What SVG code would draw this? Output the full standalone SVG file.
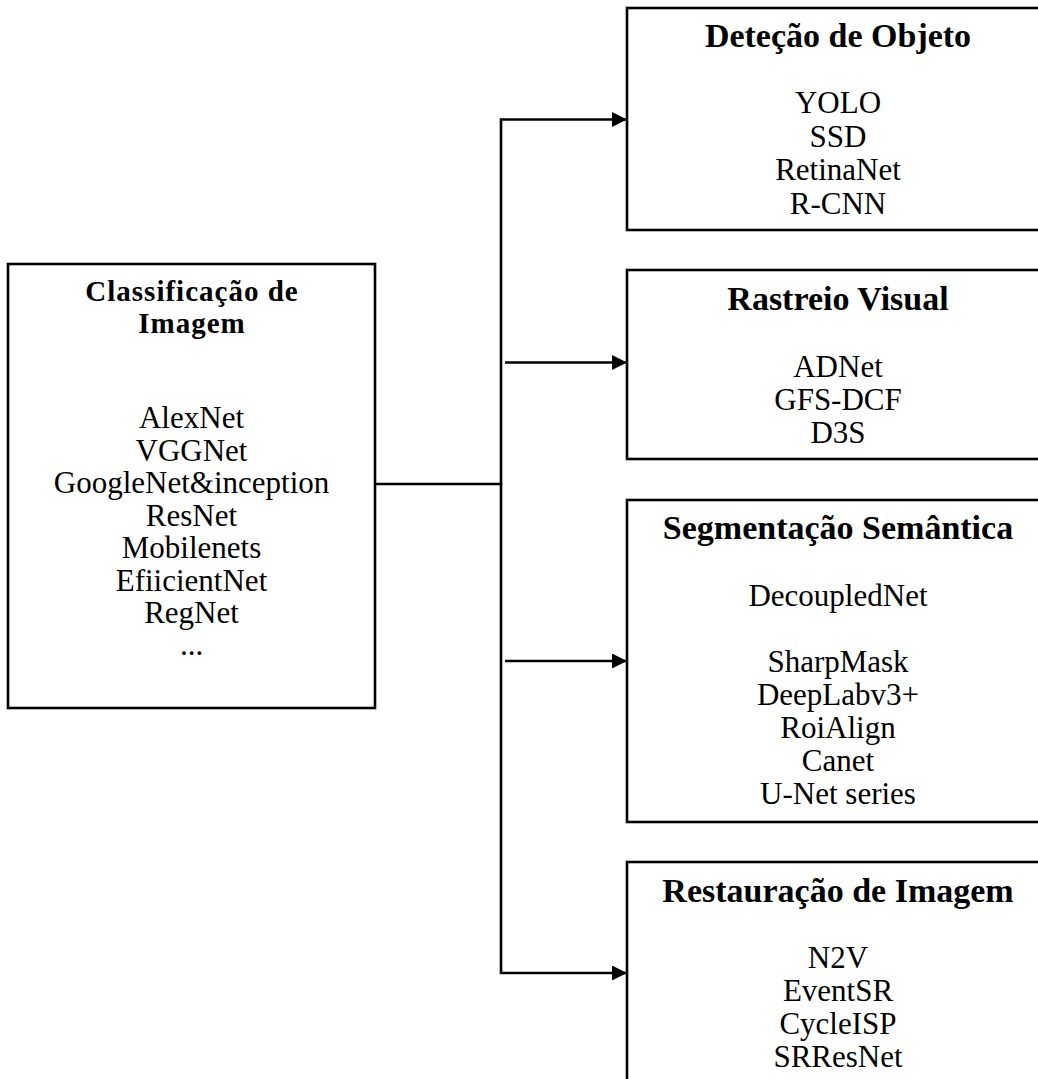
<svg xmlns="http://www.w3.org/2000/svg" width="1038" height="1079" viewBox="0 0 1038 1079">
  <style>
    .box { fill: #ffffff; stroke: #000000; stroke-width: 2.6; }
    .wire { fill: none; stroke: #000000; stroke-width: 2.6; }
    text { font-family: "Liberation Serif", "Times New Roman", serif; fill: #000000; text-anchor: middle; }
    .title { font-weight: bold; font-size: 34px; }
    .title-left { font-weight: bold; font-size: 29px; letter-spacing: 1px; }
    .item { font-size: 31px; }
  </style>
  <defs>
    <marker id="arrow" markerUnits="userSpaceOnUse" markerWidth="15" markerHeight="15" viewBox="0 0 15 15" refX="15" refY="7.5" orient="auto">
      <path d="M0,0 L15,7.5 L0,15 Z" fill="#000000"/>
    </marker>
  </defs>

  <rect width="1038" height="1079" fill="#ffffff"/>

  <!-- connectors -->
  <g id="connectors">
    <path class="wire" d="M375,484 H501"/>
    <path class="wire" d="M501,485 V119.5 H627" marker-end="url(#arrow)"/>
    <path class="wire" d="M501,483 V973 H627" marker-end="url(#arrow)"/>
    <path class="wire" d="M505,362.5 H627" marker-end="url(#arrow)"/>
    <path class="wire" d="M505,661 H627" marker-end="url(#arrow)"/>
  </g>

  <!-- source node -->
  <g id="classificacao">
    <rect class="box" x="8" y="264" width="367" height="444"/>
    <text class="title-left" x="192" y="301">Classificação de</text>
    <text class="title-left" x="192" y="333">Imagem</text>
    <text class="item" x="191.5" y="428">AlexNet</text>
    <text class="item" x="191.5" y="460.5">VGGNet</text>
    <text class="item" x="191.5" y="493">GoogleNet&amp;inception</text>
    <text class="item" x="191.5" y="525.5">ResNet</text>
    <text class="item" x="191.5" y="558">Mobilenets</text>
    <text class="item" x="191.5" y="590.5">EfiicientNet</text>
    <text class="item" x="191.5" y="623">RegNet</text>
    <text class="item" x="191.5" y="655">...</text>
  </g>

  <!-- target nodes -->
  <g id="deteccao">
    <rect class="box" x="627" y="8" width="450" height="222"/>
    <text class="title" x="838" y="47">Deteção de Objeto</text>
    <text class="item" x="838" y="113">YOLO</text>
    <text class="item" x="838" y="146.5">SSD</text>
    <text class="item" x="838" y="180">RetinaNet</text>
    <text class="item" x="838" y="213.5">R-CNN</text>
  </g>

  <g id="rastreio">
    <rect class="box" x="627" y="270" width="450" height="189"/>
    <text class="title" x="838" y="310">Rastreio Visual</text>
    <text class="item" x="838" y="377">ADNet</text>
    <text class="item" x="838" y="410">GFS-DCF</text>
    <text class="item" x="838" y="443">D3S</text>
  </g>

  <g id="segmentacao">
    <rect class="box" x="627" y="500" width="450" height="322"/>
    <text class="title" x="838" y="539">Segmentação Semântica</text>
    <text class="item" x="838" y="606">DecoupledNet</text>
    <text class="item" x="838" y="672">SharpMask</text>
    <text class="item" x="838" y="705">DeepLabv3+</text>
    <text class="item" x="838" y="738">RoiAlign</text>
    <text class="item" x="838" y="771">Canet</text>
    <text class="item" x="838" y="804">U-Net series</text>
  </g>

  <g id="restauracao">
    <rect class="box" x="627" y="862" width="450" height="260"/>
    <text class="title" x="838" y="902">Restauração de Imagem</text>
    <text class="item" x="838" y="968">N2V</text>
    <text class="item" x="838" y="1001">EventSR</text>
    <text class="item" x="838" y="1034">CycleISP</text>
    <text class="item" x="838" y="1067">SRResNet</text>
  </g>
</svg>
